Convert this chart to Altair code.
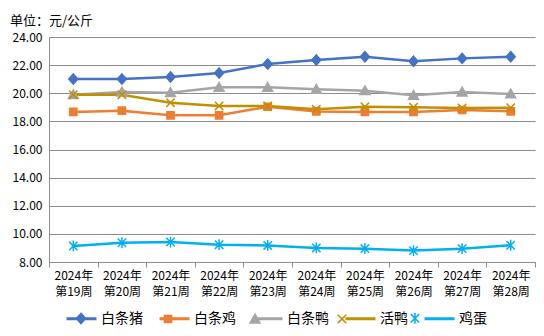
import altair as alt
import pandas as pd

weeks = ["2024年|第19周", "2024年|第20周", "2024年|第21周", "2024年|第22周", "2024年|第23周",
         "2024年|第24周", "2024年|第25周", "2024年|第26周", "2024年|第27周", "2024年|第28周"]
series_names = ["白条猪", "白条鸡", "白条鸭", "活鸭", "鸡蛋"]
pig = [21.01, 21.01, 21.16, 21.44, 22.08, 22.36, 22.60, 22.27, 22.48, 22.60]
chicken = [18.67, 18.76, 18.43, 18.43, 19.04, 18.71, 18.67, 18.67, 18.81, 18.71]
duck = [19.90, 20.09, 20.04, 20.42, 20.42, 20.28, 20.18, 19.85, 20.09, 19.95]
live_duck = [19.90, 19.90, 19.33, 19.10, 19.10, 18.86, 19.04, 19.00, 18.95, 18.97]
egg = [9.14, 9.37, 9.42, 9.23, 9.18, 9.00, 8.95, 8.81, 8.95, 9.19]
y_ticks = [8, 10, 12, 14, 16, 18, 20, 22, 24]

colors = ["#4472C4", "#ED7D31", "#A5A5A5", "#BF9000", "#00B0F0"]

rows = []
for name, vals in zip(series_names, [pig, chicken, duck, live_duck, egg]):
    for w, v in zip(weeks, vals):
        rows.append({"week": w, "series": name, "value": v})
df = pd.DataFrame(rows)

FONT = "Noto Sans CJK SC"
GRID = "#8C8C8C"
W, H = 486, 225
LEG_X, LEG_Y = 16, 265
LEG_COMMON = dict(title=None, orient="none", legendX=LEG_X, legendY=LEG_Y, direction="horizontal",
                  symbolSize=900, labelFont=FONT, labelFontSize=14, labelColor="#000000",
                  labelOffset=3, columnPadding=10)

x_axis = alt.Axis(title=None, grid=False, domain=True, domainColor=GRID, ticks=True,
                  tickBand="extent", tickSize=5, tickColor=GRID, labelAngle=0,
                  labelExpr="split(datum.label, '|')", labelFont=FONT, labelFontSize=12,
                  labelColor="#000000", labelPadding=3, labelLineHeight=16)
y_axis = alt.Axis(title=None, grid=True, gridColor=GRID, domain=True, domainColor=GRID,
                  ticks=False, values=y_ticks, format=".2f", labelFont=FONT, labelFontSize=12,
                  labelColor="#000000", labelPadding=7)

x_enc = alt.X("week:N", sort=weeks,
              scale=alt.Scale(type="band", paddingInner=0, paddingOuter=0), axis=x_axis)
y_enc = alt.Y("value:Q", scale=alt.Scale(domain=[8, 24], nice=False, zero=False), axis=y_axis)

base = alt.Chart(df)

# legend of the lines: a plain line segment per entry (data-driven domain so it stays separate)
line_leg = alt.Legend(symbolType="M-1,0L1,0", symbolStrokeWidth=3, zindex=1, **LEG_COMMON)

lines = base.mark_line(strokeWidth=2.5).encode(
    x=x_enc, y=y_enc,
    color=alt.Color("series:N", sort=series_names, scale=alt.Scale(range=colors), legend=line_leg),
)

# marker shapes (drawn inside a 30px box: size 900)
marker_paths = [
    "M0,-0.34L0.3,0L0,0.34L-0.3,0Z",
    "M-0.24,-0.24L0.24,-0.24L0.24,0.24L-0.24,0.24Z",
    "M0,-0.32L0.33,0.26L-0.33,0.26Z",
    "M-0.28,-0.28L0.28,0.28M-0.28,0.28L0.28,-0.28",
    "M-0.28,-0.28L0.28,0.28M-0.28,0.28L0.28,-0.28M0,-0.36L0,0.36",
]

mk_leg = alt.Legend(symbolStrokeWidth=1.5, labelOpacity=0, zindex=2, **LEG_COMMON)

markers = base.mark_point(filled=True, size=900, strokeWidth=1.5, opacity=1).encode(
    x=x_enc, y=y_enc,
    fill=alt.Fill("series:N", scale=alt.Scale(domain=series_names, range=colors), legend=mk_leg),
    stroke=alt.Stroke("series:N", scale=alt.Scale(domain=series_names, range=colors), legend=mk_leg),
    shape=alt.Shape("series:N", scale=alt.Scale(domain=series_names, range=marker_paths), legend=mk_leg),
)

chart = alt.layer(lines, markers).properties(
    width=W, height=H,
    padding={"left": 49, "top": 37, "right": 9, "bottom": 74},
    autosize=alt.AutoSizeParams(type="none"),
    title=alt.TitleParams("单位：元/公斤", anchor="start", frame="group", font=FONT, fontSize=13,
                          fontWeight="normal", color="#000000", offset=3, dx=-39),
).configure_view(stroke=None)

chart.save("out.html", embed_options={"renderer": "svg", "actions": False})
